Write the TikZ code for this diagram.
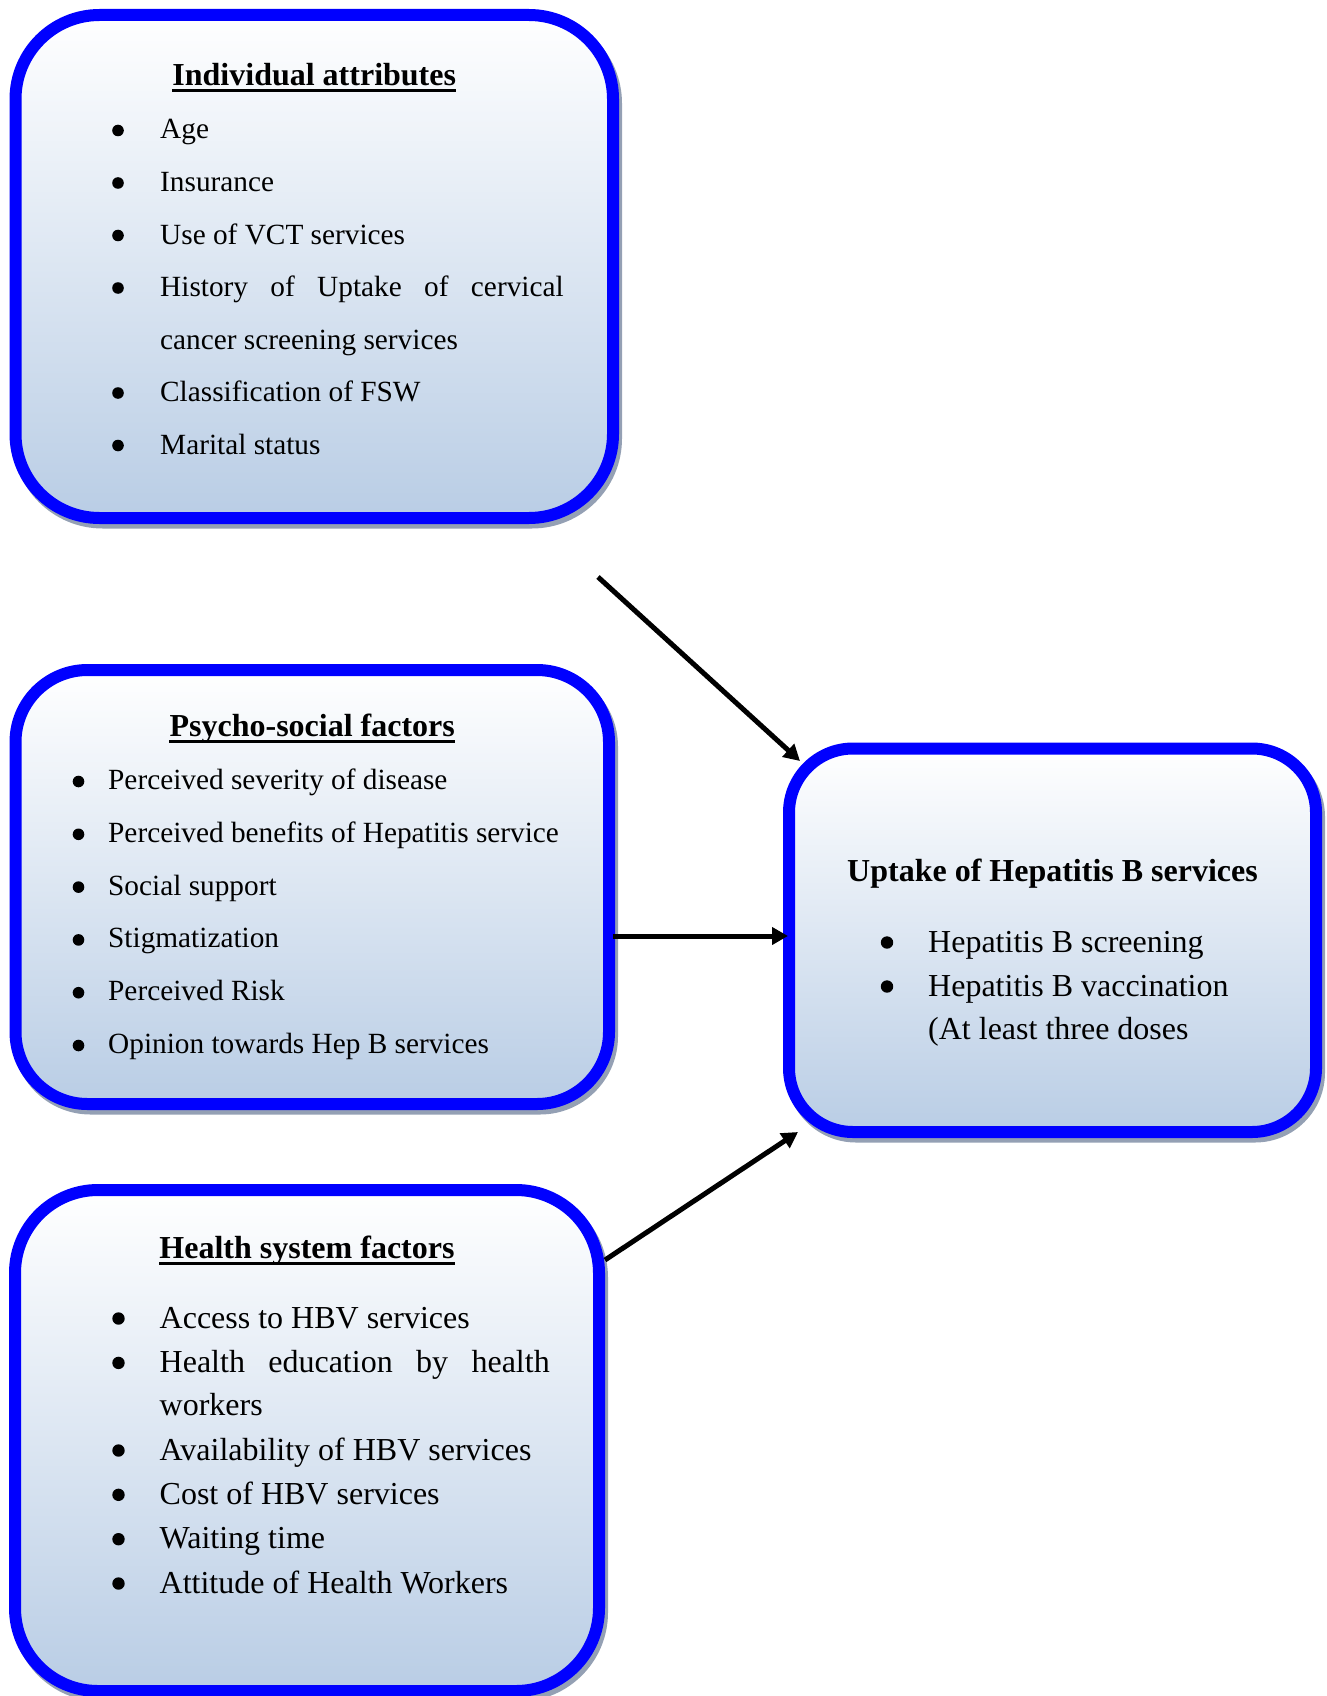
\documentclass[tikz,border=0pt]{standalone}
\usepackage{fontspec}
\setmainfont{Liberation Serif}
\usetikzlibrary{arrows.meta,calc}
\definecolor{frameblue}{RGB}{0,0,255}
\definecolor{fillbot}{RGB}{185,205,229}
\definecolor{shadowcol}{RGB}{148,160,180}
\tikzset{
 framebox/.style={draw=frameblue, line width=12pt, top color=white, bottom color=fillbot, rounded corners=#1, inner sep=0pt, outer sep=0pt},
 shadowbox/.style={draw=shadowcol, fill=shadowcol, line width=12pt, rounded corners=#1, inner sep=0pt, outer sep=0pt},
 boxtitle/.style={font=\fontsize{32pt}{38pt}\selectfont\bfseries, inner sep=0pt, anchor=base},
 itemsmall/.style={font=\fontsize{29.3pt}{35pt}\selectfont, inner sep=0pt, anchor=base west},
 itemlarge/.style={font=\fontsize{32pt}{38pt}\selectfont, inner sep=0pt, anchor=base west},
 uline/.style={line width=3.3pt},
 link/.style={line width=5pt, -{Triangle[length=16pt,width=17pt]}},
}
\begin{document}
\begin{tikzpicture}[x=1pt,y=1pt]
\useasboundingbox (0,0) rectangle (1326,-1696);
% shadows
\node[shadowbox=84pt, minimum width=597.5pt, minimum height=503pt] (s1) at (317.25,-271) {};
\node[shadowbox=72pt, minimum width=593.5pt, minimum height=434pt] (s2) at (315.25,-891.5) {};
\node[shadowbox=83pt, minimum width=584pt, minimum height=501pt] (s3) at (310,-1445) {};
\node[shadowbox=64pt, minimum width=527pt, minimum height=383.5pt] (s4) at (1055.5,-944.75) {};
% boxes
\node[framebox=84pt, minimum width=597.5pt, minimum height=503pt] (b1) at (314.25,-266.5) {};
\node[framebox=72pt, minimum width=593.5pt, minimum height=434pt] (b2) at (312.25,-887) {};
\node[framebox=83pt, minimum width=584pt, minimum height=501pt] (b3) at (307,-1440.5) {};
\node[framebox=64pt, minimum width=527pt, minimum height=383.5pt] (b4) at (1052.5,-940.25) {};
% connectors
\coordinate (a1s) at (598,-577);
\coordinate (a1e) at (800,-761);
\coordinate (a2s) at (613,-936);
\coordinate (a2e) at (788,-936);
\coordinate (a3s) at (605,-1260);
\coordinate (a3e) at (798,-1132);
\draw[link] (a1s) -- (a1e);
\draw[link] (a2s) -- (a2e);
\draw[link] (a3s) -- (a3e);
\begin{scope}[yshift=-2pt]
% box 1
\node[boxtitle] (h1) at (314.25,-83.5) {Individual attributes};
\draw[uline] ($(h1.base west)+(0,-5)$) -- ($(h1.base east)+(0,-5)$);
\foreach \yy in {137,189.5,242,294.5,399.5,452} \fill (118,{-\yy+8.5}) circle (5.8pt);
\node[itemsmall] (p1a) at (160,-137) {Age};
\node[itemsmall] (p1b) at (160,-189.5) {Insurance};
\node[itemsmall] (p1c) at (160,-242) {Use of VCT services};
\node[itemsmall] (p1d) at (160,-294.5) {\makebox[403.5pt][s]{History of Uptake of cervical}};
\node[itemsmall] (p1e) at (160,-347) {cancer screening services};
\node[itemsmall] (p1f) at (160,-399.5) {Classification of FSW};
\node[itemsmall] (p1g) at (160,-452) {Marital status};
% box 2
\node[boxtitle] (h2) at (312.25,-734.5) {Psycho-social factors};
\draw[uline] ($(h2.base west)+(0,-5)$) -- ($(h2.base east)+(0,-5)$);
\foreach \yy in {787.5,840.3,893.1,945.9,998.7,1051.5} \fill (78.5,{-\yy+8}) circle (5.8pt);
\node[itemsmall] (p2a) at (108,-787.5) {Perceived severity of disease};
\node[itemsmall] (p2b) at (108,-840.3) {Perceived benefits of Hepatitis service};
\node[itemsmall] (p2c) at (108,-893.1) {Social support};
\node[itemsmall] (p2d) at (108,-945.9) {Stigmatization};
\node[itemsmall] (p2e) at (108,-998.7) {Perceived Risk};
\node[itemsmall] (p2f) at (108,-1051.5) {Opinion towards Hep B services};
% box 3
\node[boxtitle] (h3) at (307,-1256.5) {Health system factors};
\draw[uline] ($(h3.base west)+(0,-5)$) -- ($(h3.base east)+(0,-5)$);
\foreach \yy in {1326,1370.4,1458,1502.3,1546.7,1591} \fill (118.5,{-\yy+9.5}) circle (6.2pt);
\node[itemlarge] (p3a) at (159.5,-1326) {Access to HBV services};
\node[itemlarge] (p3b) at (159.5,-1370.4) {\makebox[390pt][s]{Health education by health}};
\node[itemlarge] (p3c) at (159.5,-1413.7) {workers};
\node[itemlarge] (p3d) at (159.5,-1458) {Availability of HBV services};
\node[itemlarge] (p3e) at (159.5,-1502.3) {Cost of HBV services};
\node[itemlarge] (p3f) at (159.5,-1546.7) {Waiting time};
\node[itemlarge] (p3g) at (159.5,-1591) {Attitude of Health Workers};
% box 4
\node[boxtitle] (h4) at (1052.5,-879) {Uptake of Hepatitis B services};
\foreach \yy in {950,994} \fill (887,{-\yy+9.5}) circle (6.2pt);
\node[itemlarge] (p4a) at (928,-950) {Hepatitis B screening};
\node[itemlarge] (p4b) at (928,-994) {Hepatitis B vaccination};
\node[itemlarge] (p4c) at (928,-1037.5) {(At least three doses};
\end{scope}
\end{tikzpicture}
\end{document}
